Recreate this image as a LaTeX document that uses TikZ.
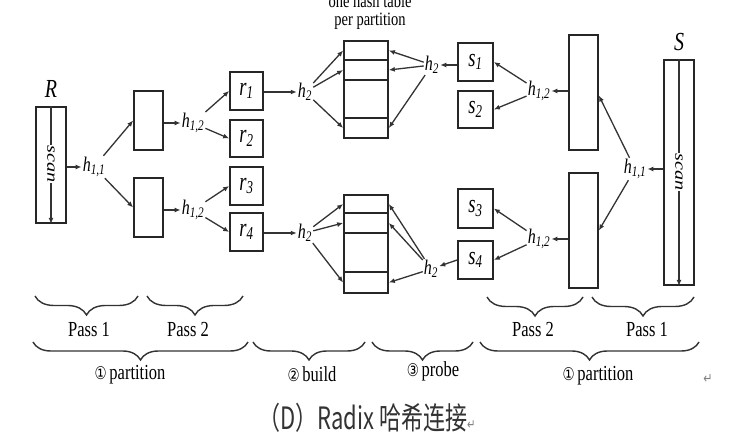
\documentclass[tikz,border=0pt]{standalone}
\usepackage{fontspec}
\usepackage{graphicx}
\setmainfont{Liberation Serif}
\newfontfamily\cjkf{Noto Sans CJK SC}
\newfontfamily\dejavu{DejaVu Sans}
\usetikzlibrary{arrows.meta,decorations.pathreplacing}
\newcommand{\vs}[1]{\scalebox{1}[1.3]{#1}}
\newcommand{\hl}[1]{\vs{\textit{h\textsubscript{#1}}}}
\newcommand{\cn}[1]{{\dejavu\fontsize{13.5}{14}\selectfont #1}}
\tikzset{
  box/.style={draw=black!85, line width=1.7pt, inner sep=0pt},
  tabrow/.style={box, minimum width=44pt},
  arr/.style={draw=black!80, line width=1.3pt, -{Latex[length=6pt,width=5pt]}},
  lab/.style={inner sep=1pt, font=\fontsize{16}{17}\selectfont},
  big/.style={inner sep=1pt, font=\fontsize{20}{21}\selectfont},
  boxlab/.style={font=\fontsize{18.5}{20}\selectfont},
  brc/.style={decorate, decoration={brace, mirror, amplitude=#1, aspect=0.5}, draw=black!80, line width=1.4pt},
  btxt/.style={font=\fontsize{16.5}{18}\selectfont, inner sep=0pt},
  scantxt/.style={rotate=-90, fill=white, inner sep=1pt, font=\fontsize{15.5}{16}\selectfont\itshape},
}
\begin{document}
\begin{tikzpicture}[x=1pt, y={(0pt,-1pt)}]
\fill[white] (0,0) rectangle (732,446);
\useasboundingbox (0,0) rectangle (732,446);

% ---------- left relation R ----------
\node[big] (Rl) at (51,89) {\vs{\textit{R}}};
\node[box, minimum width=30pt, minimum height=116pt] (R) at (51,165) {};
\draw[arr] (R.north) -- (R.south);
\node[scantxt] (scanR) at (51,164) {\scalebox{1.3}[1]{scan}};

\node[lab] (h11L) at (94,167) {\hl{1,1}};
\draw[arr] (R.east |- h11L) -- (h11L);

\node[box, minimum width=29pt, minimum height=59pt] (p1a) at (148.5,120.5) {};
\node[box, minimum width=29pt, minimum height=59pt] (p1b) at (148.5,207.5) {};
\draw[arr] (h11L) -- (p1a.west);
\draw[arr] (h11L) -- (p1b.west);

\node[lab] (h12a) at (193,123) {\hl{1,2}};
\node[lab] (h12b) at (193,210) {\hl{1,2}};
\draw[arr] (p1a.east |- h12a) -- (h12a);
\draw[arr] (p1b.east |- h12b) -- (h12b);

\node[box, minimum width=33pt, minimum height=38pt] (r1) at (246.5,91) {};
\node[box, minimum width=33pt, minimum height=37pt] (r2) at (246.5,138.5) {};
\node[box, minimum width=33pt, minimum height=38pt] (r3) at (246.5,186) {};
\node[box, minimum width=33pt, minimum height=38pt] (r4) at (246.5,232) {};
\node[boxlab] at (r1) {\scalebox{1}[1.4]{\textit{r\textsubscript{1}}}};
\node[boxlab] at (r2) {\scalebox{1}[1.4]{\textit{r\textsubscript{2}}}};
\node[boxlab] at (r3) {\scalebox{1}[1.4]{\textit{r\textsubscript{3}}}};
\node[boxlab] at (r4) {\scalebox{1}[1.4]{\textit{r\textsubscript{4}}}};
\draw[arr] (h12a) -- (r1.west);
\draw[arr] (h12a) -- (r2.west);
\draw[arr] (h12b) -- (r3.west);
\draw[arr] (h12b) -- (r4.west);

\node[lab] (h2a) at (305,92) {\hl{2}};
\node[lab] (h2b) at (305,233) {\hl{2}};
\draw[arr] (r1.east |- h2a) -- (h2a);
\draw[arr] (r4.east |- h2b) -- (h2b);

% ---------- hash tables ----------
\node[font=\fontsize{14.5}{16}\selectfont, inner sep=0pt] (ht1) at (370,1) {\vs{one hash table}};
\node[font=\fontsize{14.5}{16}\selectfont, inner sep=0pt] (ht2) at (370,21) {\vs{per partition}};

\node[tabrow, minimum height=19pt] (tA1) at (366,50.5) {};
\node[tabrow, minimum height=20pt] (tA2) at (366,70) {};
\node[tabrow, minimum height=38pt] (tA3) at (366,99) {};
\node[tabrow, minimum height=20pt] (tA4) at (366,128) {};
\node[tabrow, minimum height=18pt] (tB1) at (366,204) {};
\node[tabrow, minimum height=20pt] (tB2) at (366,223) {};
\node[tabrow, minimum height=39pt] (tB3) at (366,252.5) {};
\node[tabrow, minimum height=21pt] (tB4) at (366,282.5) {};

\draw[arr] (h2a) -- (tA1.west);
\draw[arr] (h2a) -- (tA2.west);
\draw[arr] (h2a) -- (tA4.west);
\draw[arr] (h2b) -- (tB1.west);
\draw[arr] (h2b) -- (tB2.west);
\draw[arr] (h2b) -- (tB4.west);

\node[lab] (h2c) at (432,65) {\hl{2}};
\node[lab] (h2d) at (431,269) {\hl{2}};
\draw[arr] (h2c) -- (tA1.east);
\draw[arr] (h2c) -- (tA2.east);
\draw[arr] (h2c) -- (tA4.east);
\draw[arr] (h2d) -- (tB1.east);
\draw[arr] (h2d) -- (tB2.east);
\draw[arr] (h2d) -- (tB4.east);

% ---------- right relation S ----------
\node[box, minimum width=35pt, minimum height=38pt] (s1) at (475.5,62) {};
\node[box, minimum width=35pt, minimum height=37pt] (s2) at (475.5,109.5) {};
\node[box, minimum width=35pt, minimum height=39pt] (s3) at (475.5,208.5) {};
\node[box, minimum width=35pt, minimum height=38pt] (s4) at (475.5,260) {};
\node[boxlab] at (s1) {\scalebox{1}[1.4]{\textit{s\textsubscript{1}}}};
\node[boxlab] at (s2) {\scalebox{1}[1.4]{\textit{s\textsubscript{2}}}};
\node[boxlab] at (s3) {\scalebox{1}[1.4]{\textit{s\textsubscript{3}}}};
\node[boxlab] at (s4) {\scalebox{1}[1.4]{\textit{s\textsubscript{4}}}};
\draw[arr] (s1.west |- h2c) -- (h2c);
\draw[arr] (s4.west) -- (h2d);

\node[box, minimum width=29pt, minimum height=115pt] (q1a) at (583.5,92.5) {};
\node[box, minimum width=29pt, minimum height=115pt] (q1b) at (583.5,230.5) {};
\node[lab] (h12c) at (539,91) {\hl{1,2}};
\node[lab] (h12d) at (539,239) {\hl{1,2}};
\draw[arr] (q1a.west |- h12c) -- (h12c);
\draw[arr] (q1b.west |- h12d) -- (h12d);
\draw[arr] (h12c) -- (s1.east);
\draw[arr] (h12c) -- (s2.east);
\draw[arr] (h12d) -- (s3.east);
\draw[arr] (h12d) -- (s4.east);

\node[big] (Sl) at (679,42) {\vs{\textit{S}}};
\node[box, minimum width=30pt, minimum height=225pt] (S) at (679,172.5) {};
\draw[arr] (S.north) -- (S.south);
\node[scantxt] (scanS) at (679,172) {\scalebox{1.3}[1]{scan}};
\node[lab] (h11R) at (635,169) {\hl{1,1}};
\draw[arr] (S.west |- h11R) -- (h11R);
\draw[arr] (h11R) -- ([yshift=-3pt]q1a.east);
\draw[arr] (h11R) -- (q1b.east);

% ---------- braces ----------
\coordinate (b1a) at (35,296);  \coordinate (b1b) at (138,296);
\coordinate (b2a) at (147,296); \coordinate (b2b) at (243,296);
\coordinate (b3a) at (487,297); \coordinate (b3b) at (583,297);
\coordinate (b4a) at (592,297); \coordinate (b4b) at (694,297);
\coordinate (c1a) at (33,342);  \coordinate (c1b) at (248,342);
\coordinate (c2a) at (253,342); \coordinate (c2b) at (365,342);
\coordinate (c3a) at (372,342); \coordinate (c3b) at (473,342);
\coordinate (c4a) at (480,342); \coordinate (c4b) at (699,342);
\draw[brc=19pt] (b1a) -- (b1b);
\draw[brc=19pt] (b2a) -- (b2b);
\draw[brc=19pt] (b3a) -- (b3b);
\draw[brc=19pt] (b4a) -- (b4b);
\draw[brc=18pt] (c1a) -- (c1b);
\draw[brc=18pt] (c2a) -- (c2b);
\draw[brc=18pt] (c3a) -- (c3b);
\draw[brc=18pt] (c4a) -- (c4b);

\node[btxt] (lp1) at (89,330) {\vs{Pass 1}};
\node[btxt] (lp2) at (188,330) {\vs{Pass 2}};
\node[btxt] (lp3) at (533,330) {\vs{Pass 2}};
\node[btxt] (lp4) at (647,330) {\vs{Pass 1}};
\node[btxt] (lq1) at (130,375) {\vs{\cn{①}\,partition}};
\node[btxt] (lq2) at (312,374) {\vs{\cn{②}\,build}};
\node[btxt] (lq3) at (433,371) {\vs{\cn{③}\,probe}};
\node[btxt] (lq4) at (598,376) {\vs{\cn{①}\,partition}};
\node[inner sep=0pt, font=\dejavu\fontsize{11}{12}\selectfont, text=black!50] (ret) at (708,379) {\scalebox{1}[1.3]{↵}};

% ---------- caption ----------
\node[anchor=west, inner sep=0pt, font=\cjkf\fontsize{22}{24}\selectfont, text=black!80] (cap) at (258,418)
  {\scalebox{1}[1.4]{（D）Radix 哈希连接{\dejavu\fontsize{10}{12}\selectfont\color{black!50}↵}}};
\end{tikzpicture}
\end{document}
